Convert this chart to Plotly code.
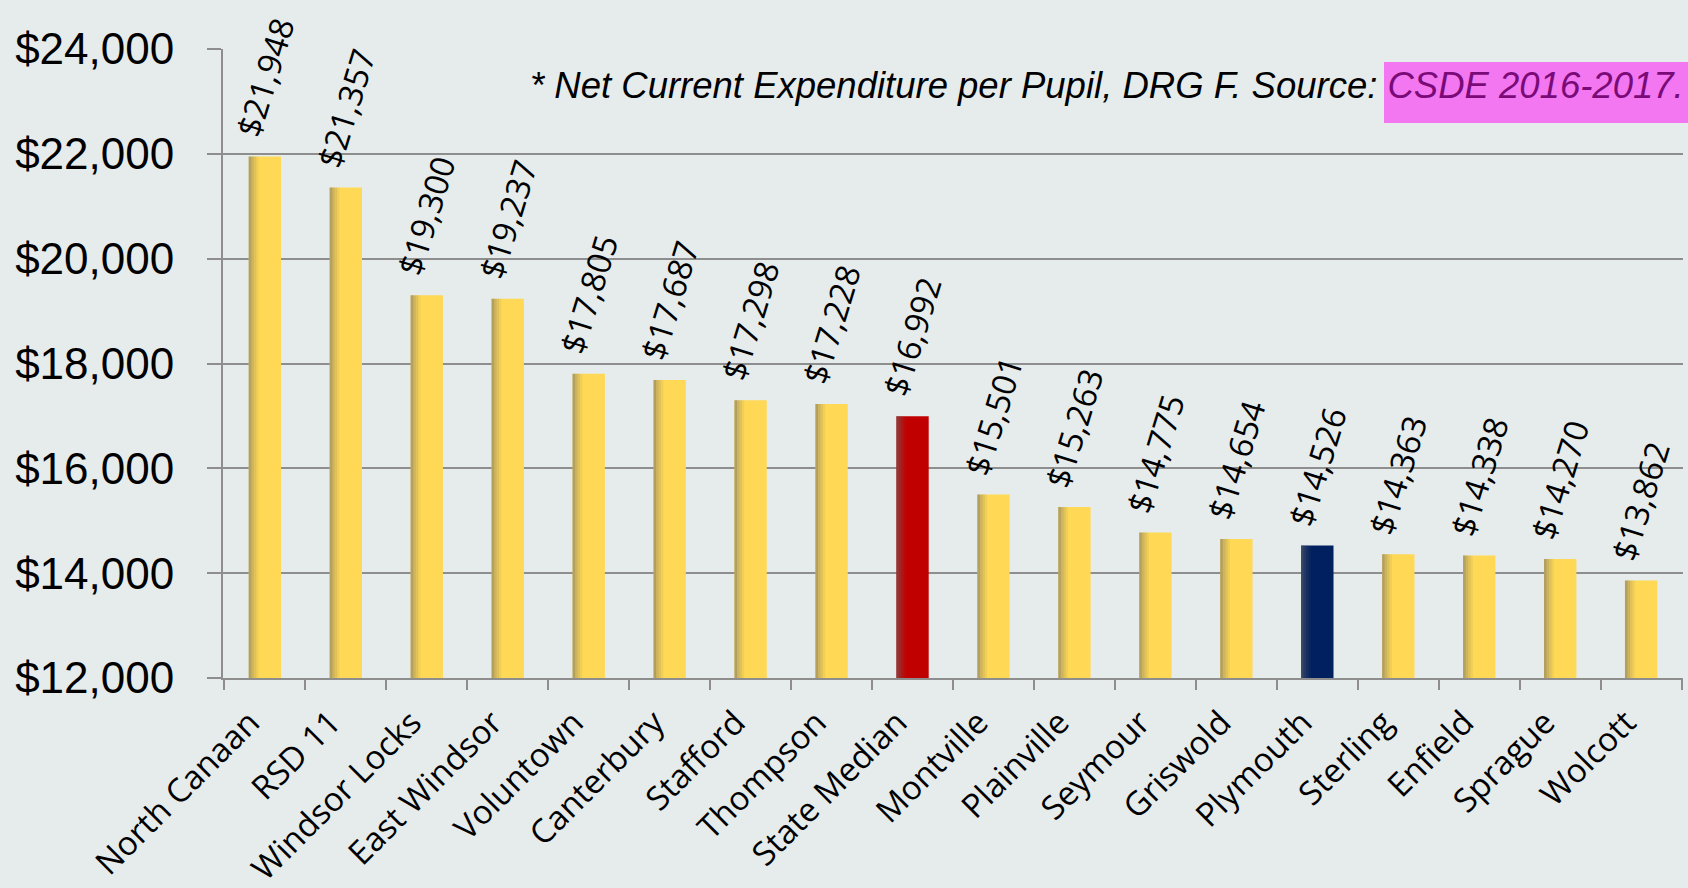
import plotly.graph_objects as go

categories = ["North Canaan", "RSD 11", "Windsor Locks", "East Windsor", "Voluntown",
              "Canterbury", "Stafford", "Thompson", "State Median", "Montville",
              "Plainville", "Seymour", "Griswold", "Plymouth", "Sterling",
              "Enfield", "Sprague", "Wolcott"]
values = [21948, 21357, 19300, 19237, 17805, 17687, 17298, 17228, 16992, 15501,
          15263, 14775, 14654, 14526, 14363, 14338, 14270, 13862]
y_ticks = [12000, 14000, 16000, 18000, 20000, 22000, 24000]
y_tick_labels = [f"${v:,}" for v in y_ticks]

YELLOW = "#FFD955"
RED = "#C00000"
NAVY = "#002060"
BG = "#E6ECEB"
GRID = "#8E8E8E"

colors = [RED if c == "State Median" else NAVY if c == "Plymouth" else YELLOW
          for c in categories]

fig = go.Figure()
fig.add_trace(go.Bar(x=categories, y=values, width=0.4, offset=-0.2,
                     marker=dict(color=colors, line=dict(width=0)),
                     hoverinfo="x+y", showlegend=False))

# left-edge shading to mimic the gradient look
shades = [(0.0, 0.5), (0.03, 0.33), (0.06, 0.2), (0.09, 0.09)]
for off, a in shades:
    fig.add_trace(go.Bar(x=categories, y=values, width=0.032, offset=-0.2 + off,
                         marker=dict(color=f"rgba(105,105,105,{a})", line=dict(width=0)),
                         hoverinfo="skip", showlegend=False))

for c, v in zip(categories, values):
    fig.add_annotation(x=c, y=v, text=f"${v:,}", showarrow=False, textangle=-73,
                       xanchor="center", yanchor="bottom", yshift=12,
                       font=dict(family="Open Sans", size=33, color="black"))

fig.add_shape(type="rect", xref="paper", yref="paper", x0=(1384 - 223) / 1460,
              x1=(1688 - 223) / 1460, y0=(678 - 123) / 629, y1=(678 - 62) / 629,
              fillcolor="#F277F0", line=dict(width=0), layer="above")

fig.add_annotation(xref="paper", yref="paper", x=(1686 - 223) / 1460, y=(678 - 85) / 629,
                   xanchor="right", yanchor="middle", showarrow=False,
                   text="<i>* Net Current Expenditure per Pupil, DRG F. Source: "
                        "<span style='color:#7A0A78'>CSDE 2016-2017.</span></i>",
                   font=dict(family="Liberation Sans", size=36.5, color="black"))

fig.update_layout(
    width=1688, height=888,
    margin=dict(l=223, r=5, t=49, b=210),
    paper_bgcolor=BG, plot_bgcolor=BG,
    barmode="overlay",
    xaxis=dict(tickangle=-45, tickson="boundaries", ticks="outside", ticklen=10,
               tickcolor=GRID, tickwidth=2, showline=True, linecolor=GRID, linewidth=2,
               showgrid=False, ticklabelshift=-15, ticklabelstandoff=10,
               automargin=False,
               tickfont=dict(family="Open Sans", size=33, color="black")),
    yaxis=dict(range=[12000, 24000], tickvals=y_ticks, ticktext=y_tick_labels,
               showgrid=True, gridcolor=GRID, gridwidth=2, zeroline=False,
               showline=True, linecolor=GRID, linewidth=2,
               ticks="outside", ticklen=14, tickcolor=GRID, tickwidth=2,
               ticklabelstandoff=24, automargin=False,
               tickfont=dict(family="Liberation Sans", size=44, color="black")),
)

fig.write_html("out.html", config={"displayModeBar": False},
               post_script="document.body.style.margin='0';")
